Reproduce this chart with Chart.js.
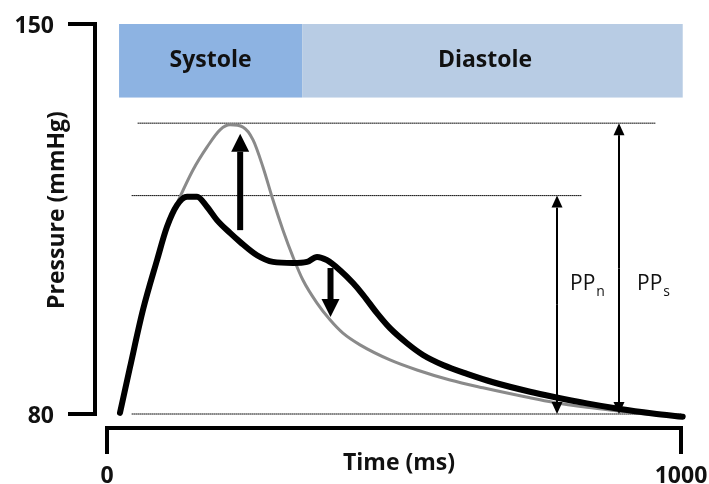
<!DOCTYPE html>
<html>
<head>
<meta charset="utf-8">
<script src="https://cdn.jsdelivr.net/npm/chart.js@4.4.0/dist/chart.umd.min.js"></script>
<style>
html, body { margin: 0; padding: 0; background: #fff; }
#wrap { width: 709px; height: 484px; }
</style>
</head>
<body>
<div id="wrap"><canvas id="chart" width="709" height="484"></canvas></div>
<script>
// Данные кривых давления (мс, мм рт. ст.)
const timeNormal = [22.6, 40.1, 62.7, 87.1, 104.5, 122, 139.4, 156.8, 174.2, 191.6, 214.3, 231.7, 261.3, 289.2, 324, 348.4, 365.9, 383.3, 405.9, 428.6, 446, 470.4, 493, 522.6, 550.5, 585.4, 627.2, 672.5, 737, 777, 836, 893.7, 951, 1003];
const pressureNormal = [80.2, 88.4, 98.7, 107.6, 113.6, 117.5, 119.0, 119.0, 117.2, 114.8, 112.5, 110.9, 108.5, 107.3, 107.1, 107.3, 108.2, 107.6, 105.8, 103.5, 101.4, 98.1, 95.4, 92.7, 90.6, 88.8, 87.2, 85.7, 84.0, 83.1, 81.9, 80.9, 80.1, 79.5];

const timeStiff = [22.6, 40.1, 62.7, 87.1, 104.5, 122, 149.8, 174.2, 196.9, 214.3, 236.9, 254.4, 271.8, 289.2, 306.6, 324, 341.5, 365.9, 388.5, 411.1, 440.8, 493, 540, 597.6, 655, 737, 777, 836, 893.7, 946];
const pressureStiff = [80.2, 88.4, 98.7, 107.6, 113.6, 117.8, 123.8, 127.9, 131.0, 131.9, 131.5, 129.2, 124.3, 118.4, 113.0, 108.2, 104.0, 99.9, 96.9, 94.5, 92.4, 89.7, 87.9, 86.1, 84.7, 82.9, 82.1, 81.2, 80.5, 79.9];

// Пунктирные уровни
const refLevels = [132.2, 119.2, 80];
const refStart = [54, 43.6, 43.6];
const refEnd = [955, 827.5, 1000];

// Фазы
const phaseNames = ['Systole', 'Diastole'];
const phaseStart = [21, 340];
const phaseEnd = [340, 1003];
const phaseColors = ['#8DB3E2', '#B8CCE4'];
const phaseTop = 150;
const phaseBottom = 136.8;

// Толстые стрелки (изменение давления)
const shiftX = [232, 389.4];
const shiftFrom = [113.0, 106.2];
const shiftTo = [130.3, 97.4];

// Пульсовое давление
const ppX = [784, 892];
const ppTop = [119.2, 132.2];
const ppBase = 80;
const ppSub = ['n', 's'];

// Оси
const xTickLabels = ['0', '1000'];
const xTickValues = [0, 1000];
const yTickLabels = ['80', '150'];
const yTickValues = [80, 150];

const toPoints = (xs, ys) => xs.map((v, i) => ({ x: v, y: ys[i] }));

const datasets = [
    {
        label: 'normal',
        data: toPoints(timeNormal, pressureNormal),
        borderColor: '#000',
        borderWidth: 6,
        order: 0
    },
    {
        label: 'stiff',
        data: toPoints(timeStiff, pressureStiff),
        borderColor: '#8a8a8a',
        borderWidth: 3,
        order: 1
    }
];
refLevels.forEach((lvl, i) => {
    datasets.push({
        label: 'ref' + i,
        data: [{ x: refStart[i], y: lvl }, { x: refEnd[i], y: lvl }],
        borderColor: '#111',
        borderWidth: 1,
        borderDash: [1, 1],
        tension: 0,
        order: 2
    });
});
datasets.forEach(d => {
    d.pointRadius = 0;
    d.fill = false;
    d.clip = false;
    d.borderCapStyle = 'round';
    d.borderJoinStyle = 'round';
    if (d.order < 2) d.cubicInterpolationMode = 'monotone';
});

function drawArrow(ctx, px, yFrom, yTo, shaft, headW, headL) {
    const dir = yTo < yFrom ? -1 : 1;
    const base = yTo - dir * headL;
    ctx.lineWidth = shaft;
    ctx.beginPath();
    ctx.moveTo(px, yFrom);
    ctx.lineTo(px, base);
    ctx.stroke();
    ctx.beginPath();
    ctx.moveTo(px, yTo);
    ctx.lineTo(px - headW / 2, base);
    ctx.lineTo(px + headW / 2, base);
    ctx.closePath();
    ctx.fill();
}

const FONT = '"Open Sans"';

const decorPlugin = {
    id: 'decor',
    beforeDatasetsDraw(chart) {
        const { ctx, scales: { x, y } } = chart;
        ctx.save();
        phaseNames.forEach((name, i) => {
            const x0 = x.getPixelForValue(phaseStart[i]);
            const x1 = x.getPixelForValue(phaseEnd[i]);
            const y0 = y.getPixelForValue(phaseTop);
            const y1 = y.getPixelForValue(phaseBottom);
            ctx.fillStyle = phaseColors[i];
            ctx.fillRect(x0, y0, x1 - x0, y1 - y0);
        });
        ctx.fillStyle = '#111';
        ctx.font = 'bold 23px ' + FONT;
        ctx.textAlign = 'center';
        ctx.textBaseline = 'middle';
        const labelY = (y.getPixelForValue(phaseTop) + y.getPixelForValue(phaseBottom)) / 2;
        ctx.fillText(phaseNames[0], (x.getPixelForValue(phaseStart[0]) + x.getPixelForValue(phaseEnd[0])) / 2, labelY);
        ctx.fillText(phaseNames[1], 485, labelY);
        ctx.restore();
    },
    afterDatasetsDraw(chart) {
        const { ctx, chartArea, scales: { x, y } } = chart;
        ctx.save();
        ctx.strokeStyle = '#000';
        ctx.fillStyle = '#000';

        // стрелки
        shiftX.forEach((v, i) => {
            drawArrow(ctx, x.getPixelForValue(v), y.getPixelForValue(shiftFrom[i]), y.getPixelForValue(shiftTo[i]), 6, 18, 18);
        });
        ppX.forEach((v, i) => {
            const px = x.getPixelForValue(v);
            const yb = y.getPixelForValue(ppBase);
            const yt = y.getPixelForValue(ppTop[i]);
            const mid = (yb + yt) / 2;
            drawArrow(ctx, px, mid, yt, 2, 11, 12);
            drawArrow(ctx, px, mid, yb, 2, 11, 12);
        });

        // оси
        const axX = chartArea.left - 12;
        const axY = chartArea.bottom + 14;
        ctx.lineWidth = 4;
        ctx.lineCap = 'square';
        ctx.beginPath();
        ctx.moveTo(axX - 25, y.getPixelForValue(yTickValues[1]));
        ctx.lineTo(axX, y.getPixelForValue(yTickValues[1]));
        ctx.lineTo(axX, y.getPixelForValue(yTickValues[0]));
        ctx.lineTo(axX - 25, y.getPixelForValue(yTickValues[0]));
        ctx.stroke();
        ctx.beginPath();
        ctx.moveTo(x.getPixelForValue(xTickValues[0]), axY + 24);
        ctx.lineTo(x.getPixelForValue(xTickValues[0]), axY);
        ctx.lineTo(x.getPixelForValue(xTickValues[1]), axY);
        ctx.lineTo(x.getPixelForValue(xTickValues[1]), axY + 24);
        ctx.stroke();

        // подписи
        ctx.fillStyle = '#111';
        ctx.font = 'bold 23px ' + FONT;
        ctx.textBaseline = 'middle';
        ctx.textAlign = 'right';
        yTickLabels.forEach((t, i) => ctx.fillText(t, 54, y.getPixelForValue(yTickValues[i]) + 2));
        ctx.textAlign = 'center';
        xTickLabels.forEach((t, i) => ctx.fillText(t, x.getPixelForValue(xTickValues[i]), 476));
        ctx.fillText('Time (ms)', 399, 463);
        ctx.save();
        ctx.translate(57, 210);
        ctx.rotate(-Math.PI / 2);
        ctx.fillText('Pressure (mmHg)', 0, 0);
        ctx.restore();

        // PP
        const ppOffset = [13, 18];
        ctx.textAlign = 'left';
        ctx.textBaseline = 'alphabetic';
        ppX.forEach((v, i) => {
            const px = x.getPixelForValue(v) + ppOffset[i];
            ctx.font = '21px ' + FONT;
            ctx.fillText('PP', px, 290);
            const w = ctx.measureText('PP').width;
            ctx.font = '14px ' + FONT;
            ctx.fillText(ppSub[i], px + w + 1, 296);
        });
        ctx.restore();
    }
};

new Chart(document.getElementById('chart'), {
    type: 'line',
    data: { datasets },
    options: {
        responsive: false,
        animation: false,
        layout: { padding: { left: 107, right: 28, top: 24, bottom: 70 } },
        plugins: { legend: { display: false }, tooltip: { enabled: false } },
        scales: {
            x: { type: 'linear', min: 0, max: 1000, display: false },
            y: { type: 'linear', min: 80, max: 150, display: false }
        }
    },
    plugins: [decorPlugin]
});
</script>
</body>
</html>
